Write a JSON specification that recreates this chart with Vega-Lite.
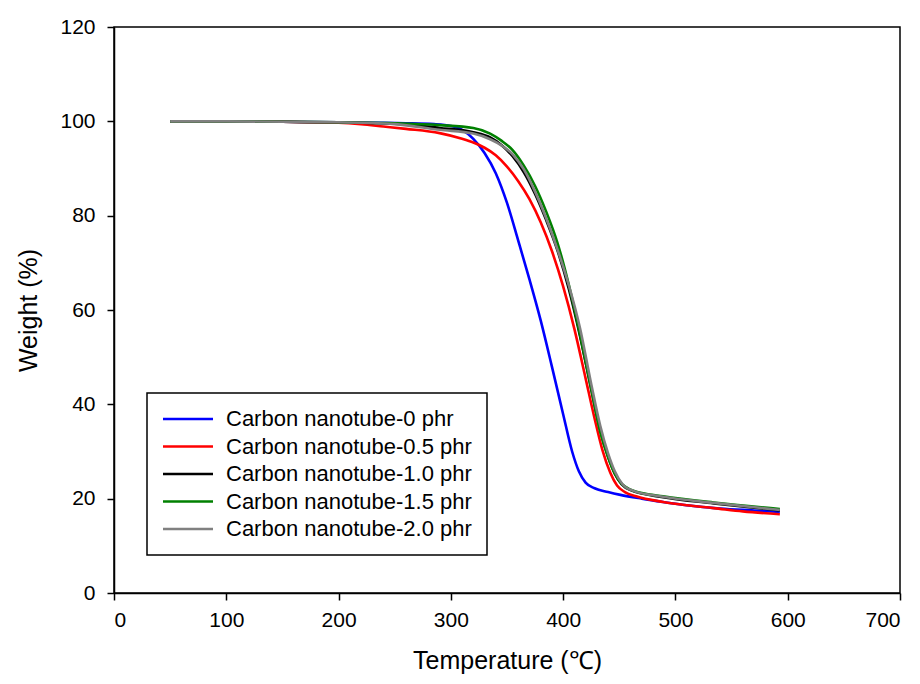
{
  "$schema": "https://vega.github.io/schema/vega-lite/v6.json",
  "width": 786,
  "height": 566,
  "autosize": {"type": "none"},
  "padding": {"left": 114, "top": 27, "right": 20, "bottom": 91},
  "background": "white",
  "config": {
    "font": "Liberation Sans",
    "view": {"stroke": "black", "strokeWidth": 1.5},
    "legend": {"strokeWidth": 1.5},
    "axis": {
      "grid": false,
      "domainColor": "black",
      "domainWidth": 1.5,
      "tickColor": "black",
      "tickWidth": 1.5,
      "tickSize": 7,
      "labelColor": "black",
      "labelFont": "Liberation Sans",
      "labelFontSize": 21,
      "titleFont": "Liberation Sans",
      "titleFontSize": 25,
      "titleFontWeight": "normal",
      "titleColor": "black"
    }
  },
  "data": {
    "values": [
      {"T": 50, "W": 100, "s": "Carbon nanotube-0 phr"},
      {"T": 100, "W": 100, "s": "Carbon nanotube-0 phr"},
      {"T": 150, "W": 99.9, "s": "Carbon nanotube-0 phr"},
      {"T": 200, "W": 99.8, "s": "Carbon nanotube-0 phr"},
      {"T": 230, "W": 99.7, "s": "Carbon nanotube-0 phr"},
      {"T": 260, "W": 99.6, "s": "Carbon nanotube-0 phr"},
      {"T": 285, "W": 99.4, "s": "Carbon nanotube-0 phr"},
      {"T": 300, "W": 99.0, "s": "Carbon nanotube-0 phr"},
      {"T": 310, "W": 98.2, "s": "Carbon nanotube-0 phr"},
      {"T": 320, "W": 96.3, "s": "Carbon nanotube-0 phr"},
      {"T": 330, "W": 93.3, "s": "Carbon nanotube-0 phr"},
      {"T": 340, "W": 89.0, "s": "Carbon nanotube-0 phr"},
      {"T": 350, "W": 82.7, "s": "Carbon nanotube-0 phr"},
      {"T": 360, "W": 74.7, "s": "Carbon nanotube-0 phr"},
      {"T": 370, "W": 66.5, "s": "Carbon nanotube-0 phr"},
      {"T": 380, "W": 57.8, "s": "Carbon nanotube-0 phr"},
      {"T": 390, "W": 48.0, "s": "Carbon nanotube-0 phr"},
      {"T": 400, "W": 37.9, "s": "Carbon nanotube-0 phr"},
      {"T": 408, "W": 30.0, "s": "Carbon nanotube-0 phr"},
      {"T": 414, "W": 25.8, "s": "Carbon nanotube-0 phr"},
      {"T": 420, "W": 23.4, "s": "Carbon nanotube-0 phr"},
      {"T": 428, "W": 22.2, "s": "Carbon nanotube-0 phr"},
      {"T": 440, "W": 21.4, "s": "Carbon nanotube-0 phr"},
      {"T": 451, "W": 20.8, "s": "Carbon nanotube-0 phr"},
      {"T": 470, "W": 20.0, "s": "Carbon nanotube-0 phr"},
      {"T": 489, "W": 19.3, "s": "Carbon nanotube-0 phr"},
      {"T": 510, "W": 18.6, "s": "Carbon nanotube-0 phr"},
      {"T": 540, "W": 17.9, "s": "Carbon nanotube-0 phr"},
      {"T": 570, "W": 17.5, "s": "Carbon nanotube-0 phr"},
      {"T": 593, "W": 17.2, "s": "Carbon nanotube-0 phr"},

      {"T": 50, "W": 100, "s": "Carbon nanotube-0.5 phr"},
      {"T": 100, "W": 100, "s": "Carbon nanotube-0.5 phr"},
      {"T": 150, "W": 99.9, "s": "Carbon nanotube-0.5 phr"},
      {"T": 200, "W": 99.7, "s": "Carbon nanotube-0.5 phr"},
      {"T": 220, "W": 99.4, "s": "Carbon nanotube-0.5 phr"},
      {"T": 240, "W": 98.9, "s": "Carbon nanotube-0.5 phr"},
      {"T": 260, "W": 98.4, "s": "Carbon nanotube-0.5 phr"},
      {"T": 290, "W": 97.5, "s": "Carbon nanotube-0.5 phr"},
      {"T": 310, "W": 96.3, "s": "Carbon nanotube-0.5 phr"},
      {"T": 320, "W": 95.5, "s": "Carbon nanotube-0.5 phr"},
      {"T": 330, "W": 94.4, "s": "Carbon nanotube-0.5 phr"},
      {"T": 340, "W": 92.8, "s": "Carbon nanotube-0.5 phr"},
      {"T": 350, "W": 90.4, "s": "Carbon nanotube-0.5 phr"},
      {"T": 360, "W": 87.3, "s": "Carbon nanotube-0.5 phr"},
      {"T": 370, "W": 83.5, "s": "Carbon nanotube-0.5 phr"},
      {"T": 380, "W": 78.6, "s": "Carbon nanotube-0.5 phr"},
      {"T": 390, "W": 72.5, "s": "Carbon nanotube-0.5 phr"},
      {"T": 400, "W": 65.0, "s": "Carbon nanotube-0.5 phr"},
      {"T": 410, "W": 56.0, "s": "Carbon nanotube-0.5 phr"},
      {"T": 420, "W": 45.5, "s": "Carbon nanotube-0.5 phr"},
      {"T": 428, "W": 37.0, "s": "Carbon nanotube-0.5 phr"},
      {"T": 435, "W": 30.3, "s": "Carbon nanotube-0.5 phr"},
      {"T": 442, "W": 25.5, "s": "Carbon nanotube-0.5 phr"},
      {"T": 448, "W": 22.8, "s": "Carbon nanotube-0.5 phr"},
      {"T": 455, "W": 21.4, "s": "Carbon nanotube-0.5 phr"},
      {"T": 465, "W": 20.5, "s": "Carbon nanotube-0.5 phr"},
      {"T": 489, "W": 19.3, "s": "Carbon nanotube-0.5 phr"},
      {"T": 510, "W": 18.6, "s": "Carbon nanotube-0.5 phr"},
      {"T": 534, "W": 18.0, "s": "Carbon nanotube-0.5 phr"},
      {"T": 560, "W": 17.3, "s": "Carbon nanotube-0.5 phr"},
      {"T": 593, "W": 16.7, "s": "Carbon nanotube-0.5 phr"},

      {"T": 50, "W": 100, "s": "Carbon nanotube-1.0 phr"},
      {"T": 100, "W": 100, "s": "Carbon nanotube-1.0 phr"},
      {"T": 150, "W": 99.9, "s": "Carbon nanotube-1.0 phr"},
      {"T": 200, "W": 99.8, "s": "Carbon nanotube-1.0 phr"},
      {"T": 250, "W": 99.5, "s": "Carbon nanotube-1.0 phr"},
      {"T": 290, "W": 98.6, "s": "Carbon nanotube-1.0 phr"},
      {"T": 320, "W": 97.7, "s": "Carbon nanotube-1.0 phr"},
      {"T": 335, "W": 96.6, "s": "Carbon nanotube-1.0 phr"},
      {"T": 345, "W": 95.0, "s": "Carbon nanotube-1.0 phr"},
      {"T": 355, "W": 92.6, "s": "Carbon nanotube-1.0 phr"},
      {"T": 365, "W": 89.2, "s": "Carbon nanotube-1.0 phr"},
      {"T": 375, "W": 84.6, "s": "Carbon nanotube-1.0 phr"},
      {"T": 385, "W": 79.0, "s": "Carbon nanotube-1.0 phr"},
      {"T": 395, "W": 72.6, "s": "Carbon nanotube-1.0 phr"},
      {"T": 405, "W": 64.5, "s": "Carbon nanotube-1.0 phr"},
      {"T": 415, "W": 54.5, "s": "Carbon nanotube-1.0 phr"},
      {"T": 425, "W": 43.2, "s": "Carbon nanotube-1.0 phr"},
      {"T": 433, "W": 34.5, "s": "Carbon nanotube-1.0 phr"},
      {"T": 440, "W": 28.9, "s": "Carbon nanotube-1.0 phr"},
      {"T": 446, "W": 25.3, "s": "Carbon nanotube-1.0 phr"},
      {"T": 452, "W": 23.1, "s": "Carbon nanotube-1.0 phr"},
      {"T": 460, "W": 21.8, "s": "Carbon nanotube-1.0 phr"},
      {"T": 489, "W": 20.3, "s": "Carbon nanotube-1.0 phr"},
      {"T": 534, "W": 19.0, "s": "Carbon nanotube-1.0 phr"},
      {"T": 593, "W": 17.5, "s": "Carbon nanotube-1.0 phr"},

      {"T": 50, "W": 100, "s": "Carbon nanotube-1.5 phr"},
      {"T": 100, "W": 100, "s": "Carbon nanotube-1.5 phr"},
      {"T": 200, "W": 99.8, "s": "Carbon nanotube-1.5 phr"},
      {"T": 250, "W": 99.6, "s": "Carbon nanotube-1.5 phr"},
      {"T": 290, "W": 99.2, "s": "Carbon nanotube-1.5 phr"},
      {"T": 320, "W": 98.6, "s": "Carbon nanotube-1.5 phr"},
      {"T": 335, "W": 97.4, "s": "Carbon nanotube-1.5 phr"},
      {"T": 345, "W": 95.9, "s": "Carbon nanotube-1.5 phr"},
      {"T": 355, "W": 93.9, "s": "Carbon nanotube-1.5 phr"},
      {"T": 365, "W": 90.6, "s": "Carbon nanotube-1.5 phr"},
      {"T": 375, "W": 86.3, "s": "Carbon nanotube-1.5 phr"},
      {"T": 385, "W": 80.8, "s": "Carbon nanotube-1.5 phr"},
      {"T": 395, "W": 74.2, "s": "Carbon nanotube-1.5 phr"},
      {"T": 405, "W": 65.4, "s": "Carbon nanotube-1.5 phr"},
      {"T": 415, "W": 54.8, "s": "Carbon nanotube-1.5 phr"},
      {"T": 425, "W": 43.3, "s": "Carbon nanotube-1.5 phr"},
      {"T": 433, "W": 34.2, "s": "Carbon nanotube-1.5 phr"},
      {"T": 440, "W": 28.8, "s": "Carbon nanotube-1.5 phr"},
      {"T": 446, "W": 25.3, "s": "Carbon nanotube-1.5 phr"},
      {"T": 452, "W": 23.2, "s": "Carbon nanotube-1.5 phr"},
      {"T": 460, "W": 21.9, "s": "Carbon nanotube-1.5 phr"},
      {"T": 470, "W": 21.2, "s": "Carbon nanotube-1.5 phr"},
      {"T": 489, "W": 20.5, "s": "Carbon nanotube-1.5 phr"},
      {"T": 534, "W": 19.2, "s": "Carbon nanotube-1.5 phr"},
      {"T": 593, "W": 17.8, "s": "Carbon nanotube-1.5 phr"},

      {"T": 50, "W": 100, "s": "Carbon nanotube-2.0 phr"},
      {"T": 100, "W": 100, "s": "Carbon nanotube-2.0 phr"},
      {"T": 200, "W": 99.8, "s": "Carbon nanotube-2.0 phr"},
      {"T": 250, "W": 99.4, "s": "Carbon nanotube-2.0 phr"},
      {"T": 290, "W": 98.2, "s": "Carbon nanotube-2.0 phr"},
      {"T": 320, "W": 97.4, "s": "Carbon nanotube-2.0 phr"},
      {"T": 335, "W": 96.2, "s": "Carbon nanotube-2.0 phr"},
      {"T": 345, "W": 94.9, "s": "Carbon nanotube-2.0 phr"},
      {"T": 355, "W": 93.0, "s": "Carbon nanotube-2.0 phr"},
      {"T": 365, "W": 89.8, "s": "Carbon nanotube-2.0 phr"},
      {"T": 375, "W": 85.1, "s": "Carbon nanotube-2.0 phr"},
      {"T": 385, "W": 79.4, "s": "Carbon nanotube-2.0 phr"},
      {"T": 395, "W": 72.8, "s": "Carbon nanotube-2.0 phr"},
      {"T": 405, "W": 65.3, "s": "Carbon nanotube-2.0 phr"},
      {"T": 415, "W": 56.2, "s": "Carbon nanotube-2.0 phr"},
      {"T": 425, "W": 44.3, "s": "Carbon nanotube-2.0 phr"},
      {"T": 433, "W": 35.5, "s": "Carbon nanotube-2.0 phr"},
      {"T": 440, "W": 29.6, "s": "Carbon nanotube-2.0 phr"},
      {"T": 446, "W": 25.8, "s": "Carbon nanotube-2.0 phr"},
      {"T": 453, "W": 23.0, "s": "Carbon nanotube-2.0 phr"},
      {"T": 462, "W": 21.7, "s": "Carbon nanotube-2.0 phr"},
      {"T": 489, "W": 20.4, "s": "Carbon nanotube-2.0 phr"},
      {"T": 534, "W": 19.1, "s": "Carbon nanotube-2.0 phr"},
      {"T": 593, "W": 17.6, "s": "Carbon nanotube-2.0 phr"}
    ]
  },
  "mark": {"type": "line", "strokeWidth": 2.6, "interpolate": "monotone"},
  "encoding": {
    "x": {
      "field": "T",
      "type": "quantitative",
      "scale": {"domain": [0, 700], "nice": false, "zero": false},
      "axis": {"values": [0, 100, 200, 300, 400, 500, 600, 700], "title": "Temperature (℃)", "labelPadding": 9, "titlePadding": 18, "format": "d"}
    },
    "y": {
      "field": "W",
      "type": "quantitative",
      "scale": {"domain": [0, 120], "nice": false},
      "axis": {"values": [0, 20, 40, 60, 80, 100, 120], "title": "Weight (%)", "labelPadding": 12, "titlePadding": 18, "format": "d"}
    },
    "color": {
      "field": "s",
      "type": "nominal",
      "scale": {
        "domain": ["Carbon nanotube-0 phr", "Carbon nanotube-0.5 phr", "Carbon nanotube-1.0 phr", "Carbon nanotube-1.5 phr", "Carbon nanotube-2.0 phr"],
        "range": ["#0000ff", "#ff0000", "#000000", "#008000", "#808080"]
      },
      "legend": {
        "title": null,
        "orient": "none",
        "legendX": 33,
        "legendY": 366,
        "strokeColor": "black",
        "fillColor": "white",
        "cornerRadius": 0,
        "padding": 15,
        "rowPadding": 5.5,
        "labelFont": "Liberation Sans",
        "labelFontSize": 22,
        "labelColor": "black",
        "labelLimit": 400,
        "symbolType": "M-2,0H8",
        "symbolSize": 100,
        "symbolStrokeWidth": 2.6,
        "labelOffset": 42
      }
    },
    "order": {"field": "s"}
  }
}
